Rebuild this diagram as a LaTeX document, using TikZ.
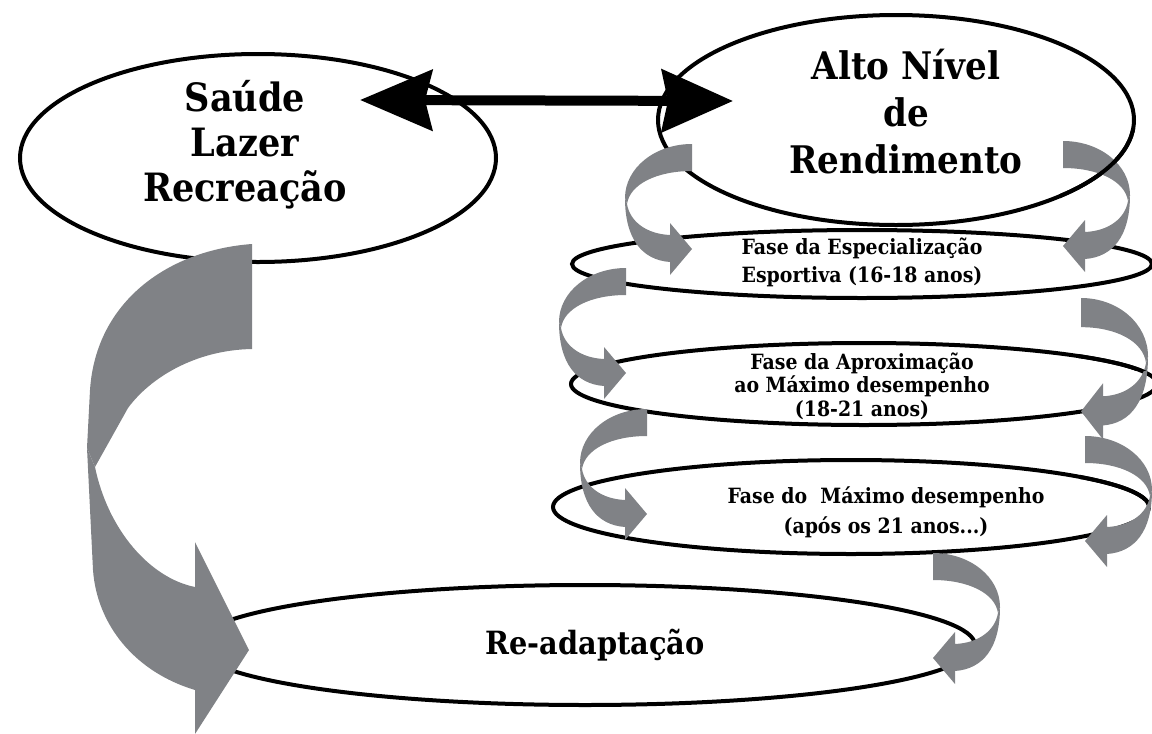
\documentclass[tikz,border=0pt]{standalone}
\usepackage{fontspec}
\setmainfont{DejaVu Serif}[FakeStretch=0.9]
\usetikzlibrary{shapes.geometric,arrows.meta}
\definecolor{arrowgray}{RGB}{128,130,134}
\tikzset{
  ell/.style={draw=black, line width=4pt, ellipse, inner sep=0pt},
  eline/.style={draw=black, line width=4pt},
  bigtxt/.style={font=\fontsize{39}{45}\selectfont\bfseries, align=center, inner sep=0pt},
  smalltxt/.style={font=\fontsize{21}{28}\selectfont\bfseries, align=center, inner sep=0pt},
  curl/.pic={
    \fill[arrowgray] (0,0) -- (0,27) .. controls (-35,27) and (-62,40) .. (-65,60)
      -- (-67,54) .. controls (-67,24) and (-37,0) .. (0,0) -- cycle;
    \fill[arrowgray] (-67,54) .. controls (-67,95) and (-50,116) .. (-22,118)
      -- (-22,131) -- (0,105) -- (-22,79) -- (-22,91)
      .. controls (-45,90) and (-62,78) .. (-65,60) -- cycle;
  }
}
\begin{document}
\begin{tikzpicture}[x=1pt,y=-1pt]
\useasboundingbox (0,0) rectangle (1152,734);
% ellipses
\node[ell, minimum width=476pt, minimum height=208pt] (saude) at (258,158) {};
\node[ell, minimum width=476pt, minimum height=210pt] (alto) at (896,120) {};
\node[ell, minimum width=580pt, minimum height=68pt] (esp) at (862,264) {};
\node[ell, minimum width=586pt, minimum height=82pt] (aprox) at (864,384) {};
\node[ell, minimum width=596pt, minimum height=94pt] (maximo) at (851,507) {};
\node[ell, minimum width=780pt, minimum height=120pt] (readapt) at (585,645) {};

% big left arrow
\fill[arrowgray] (252,244) -- (252,349) .. controls (195,350) and (150,378) .. (128,408)
  -- (95,467) -- (87,448) -- (90,390) .. controls (96,300) and (170,250) .. (252,244) -- cycle;
\fill[arrowgray] (87,448) -- (95,467) .. controls (108,530) and (150,578) .. (195,587)
  -- (195,542) -- (249,650) -- (195,734) -- (195,690)
  .. controls (135,672) and (97,625) .. (93,570) -- cycle;

% double arrow
\coordinate (la) at (360,100);
\coordinate (ra) at (733,101);
\draw[line width=10pt, {Stealth[length=72pt,width=60pt,inset=7pt]}-{Stealth[length=71pt,width=62pt,inset=6pt]}] (la) -- (ra);

% small curled arrows, left side
\pic (cl1) at (692,144) {curl};
\pic (cl2) at (626,268) {curl};
\pic (cl3) at (647,409) {curl};
% right side
\pic[xscale=-1] (cr1) at (1063,141) {curl};
\pic[xscale=-1, yscale=1.08] (cr2) at (1081,298) {curl};
\pic[xscale=-1] (cr3) at (1085,436) {curl};
\pic[xscale=-1] (cr4) at (933,553) {curl};

% ellipse lines passing in front of the right arrows
\begin{scope}
  \clip (1060,128) rectangle (1152,198);
  \draw[eline] (alto.center) ellipse [x radius=238pt, y radius=105pt];
\end{scope}
\begin{scope}
  \clip (1078,290) rectangle (1152,370);
  \draw[eline] (aprox.center) ellipse [x radius=293pt, y radius=41pt];
\end{scope}
\begin{scope}
  \clip (1080,430) rectangle (1152,500);
  \draw[eline] (maximo.center) ellipse [x radius=298pt, y radius=47pt];
\end{scope}

% texts
\node[bigtxt] (t1) at (245,145) {Saúde\\Lazer\\Recreação};
\node[bigtxt, font=\fontsize{38}{47}\selectfont\bfseries] (t2) at (906,112) {Alto Nível\\de\\Rendimento};
\node[smalltxt] (t3) at (862,262) {Fase da Especialização\\Esportiva (16-18 anos)};
\node[smalltxt, font=\fontsize{21}{23.5}\selectfont\bfseries] (t4) at (862,386) {Fase da Aproximação\\ao Máximo desempenho\\(18-21 anos)};
\node[smalltxt, font=\fontsize{21}{30}\selectfont\bfseries] (t5) at (886,512) {Fase do\ \ Máximo desempenho\\(após os 21 anos...)};
\node[bigtxt, font=\fontsize{32}{40}\selectfont\bfseries] (t6) at (595,645) {Re-adaptação};
\end{tikzpicture}
\end{document}
